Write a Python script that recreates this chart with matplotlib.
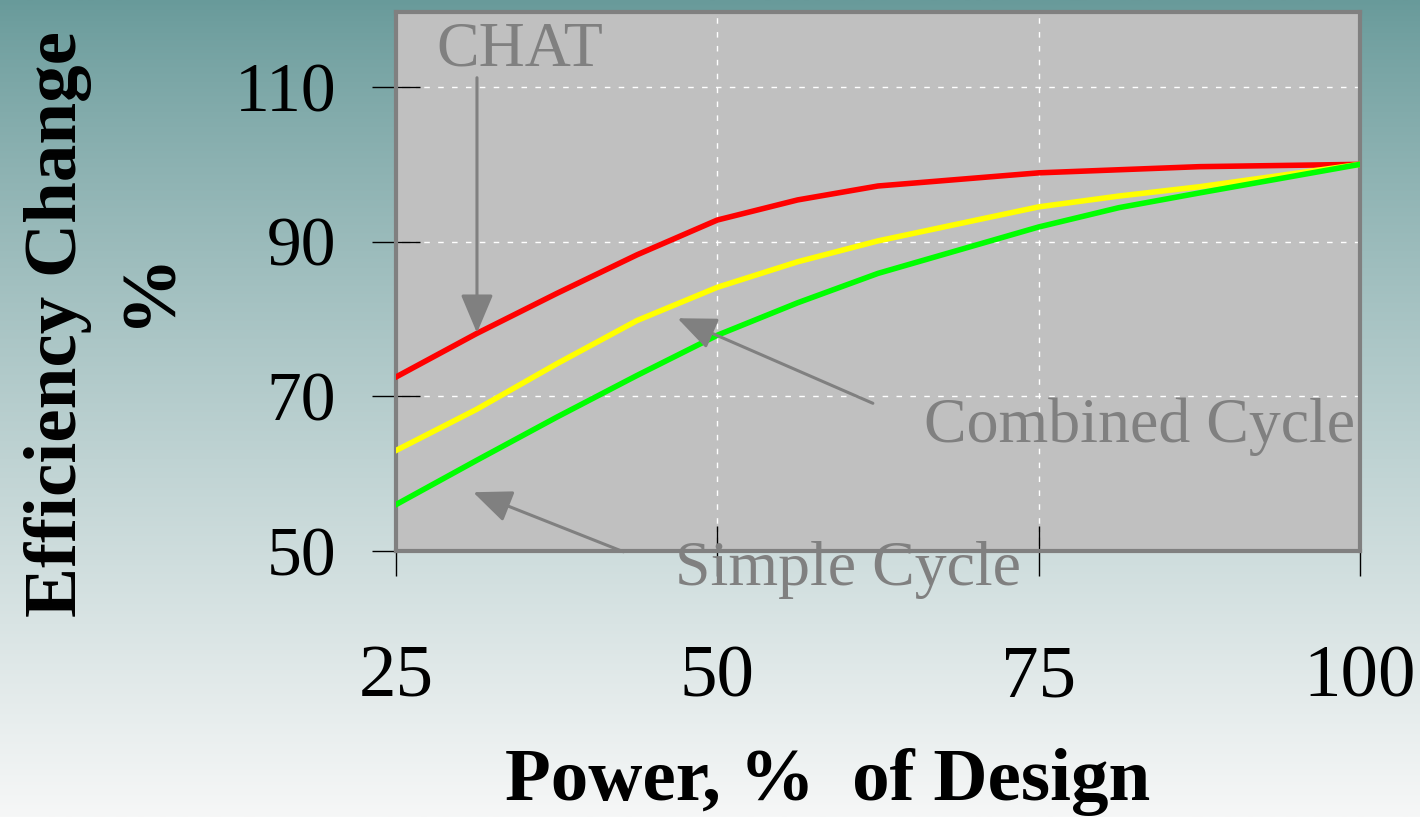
import numpy as np
import matplotlib
matplotlib.use("Agg")
import matplotlib.pyplot as plt

plt.rcParams['font.family'] = ['Liberation Serif', 'DejaVu Serif']

# part-load power (% of design) and relative efficiency (%)
power = [25, 31.25, 37.5, 43.75, 50, 56.25, 62.5, 75, 81.25, 87.5, 100]
chat = [72.5, 78.1, 83.3, 88.3, 92.8, 95.4, 97.2, 98.9, 99.3, 99.7, 100]
combined = [63.0, 68.3, 74.2, 79.8, 84.1, 87.4, 90.1, 94.5, 95.9, 97.1, 100]
simple = [56.0, 61.7, 67.3, 72.7, 77.9, 82.1, 85.9, 91.9, 94.4, 96.3, 100]

xticks = [25, 50, 75, 100]
yticks = [50, 70, 90, 110]

W, H = 1420, 817
fig = plt.figure(figsize=(W / 100, H / 100), dpi=100)

# teal-to-white vertical wash behind everything
bg = fig.add_axes([0, 0, 1, 1], zorder=-10)
top = np.array([104, 154, 154]) / 255
bot = np.array([246, 247, 247]) / 255
t = np.linspace(0, 1, 400)[:, None] ** 0.85
grad = top + (bot - top) * t
bg.imshow(grad[:, None, :], aspect='auto', extent=[0, 1, 0, 1])
bg.axis('off')

ax = fig.add_axes([396 / W, (H - 551) / H, 964 / W, 539 / H])
ax.set_facecolor('#c0c0c0')

ax.plot(power, chat, color='#ff0000', lw=4, solid_joinstyle='round', zorder=3)
ax.plot(power, combined, color='#ffff00', lw=4, solid_joinstyle='round', zorder=3)
ax.plot(power, simple, color='#00ff00', lw=4, solid_joinstyle='round', zorder=3)

ax.set_xlim(25, 100)
ax.set_ylim(50, 119.7)
ax.set_xticks(xticks)
ax.set_yticks(yticks)
ax.grid(True, color='white', linestyle=(0, (4, 6)), linewidth=1)
ax.set_axisbelow(True)

for s in ax.spines.values():
    s.set_color('#808080')
    s.set_linewidth(3)

ax.tick_params(axis='y', direction='inout', length=34, width=1, color='black',
               labelsize=50, pad=26)
ax.tick_params(axis='x', direction='inout', length=36, width=1, color='black',
               labelsize=54, pad=50)

gray = '#808080'
arrow = dict(arrowstyle='-|>,head_length=0.95,head_width=0.4', color=gray,
             lw=2.2, mutation_scale=25, shrinkA=0, shrinkB=0)

ax.annotate('', xy=(31.3, 78.2), xytext=(31.3, 111.2), arrowprops=arrow,
            annotation_clip=False)
ax.text(34.6, 112.8, 'CHAT', color=gray, fontsize=46, ha='center', va='baseline')

ax.annotate('', xy=(46.9, 80.1), xytext=(62.1, 69.1), arrowprops=arrow,
            annotation_clip=False)
ax.text(99.6, 64.1, 'Combined Cycle', color=gray, fontsize=46, ha='right',
        va='baseline')

ax.annotate('', xy=(31.0, 57.6), xytext=(42.7, 49.9), arrowprops=arrow,
            annotation_clip=False)
ax.text(46.7, 45.6, 'Simple Cycle', color=gray, fontsize=46, ha='left',
        va='baseline', clip_on=False)

fig.text(828 / W, (H - 800) / H, 'Power, %  of Design', fontsize=54,
         fontweight='bold', ha='center', va='baseline')
fig.text(58 / W, (H - 324) / H, 'Efficiency Change', fontsize=54,
         fontweight='bold', rotation=90, ha='center', va='center')
fig.text(150 / W, (H - 288) / H, '%', fontsize=56, fontweight='bold',
         rotation=90, ha='center', va='center')

fig.savefig('out.png', dpi=100)
